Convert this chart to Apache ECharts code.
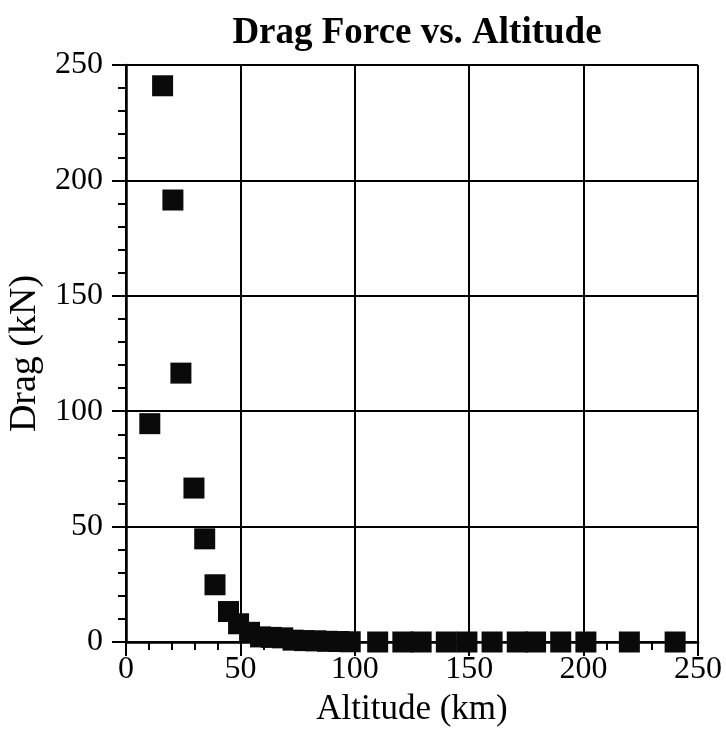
<!DOCTYPE html>
<html>
<head>
<meta charset="utf-8">
<script src="https://cdn.jsdelivr.net/npm/echarts@6/dist/echarts.min.js"></script>
<style>
  html, body { margin: 0; padding: 0; background: #fff; }
  #chart { width: 726px; height: 740px; }
</style>
</head>
<body>
<div id="chart"></div>
<script>
// Drag force measured at each altitude
const altitudeKm = [10.4, 16, 20.5, 24, 29.7, 34.4, 38.9, 44.8, 49.2, 54, 58.8, 63.5, 68.5, 73, 78, 83, 88, 93, 98,
                    110, 121, 129, 140, 149, 160, 171, 179, 190, 201, 220, 240];
const dragKn = [94.6, 241, 191.5, 116.5, 66.7, 44.7, 24.8, 13.2, 7.9, 4.2, 2.2, 2.0, 1.8, 0.8, 0.6, 0.5, 0.3, 0.2, 0.1,
                0, 0, 0, 0, 0, 0, 0, 0, 0, 0, 0, 0];

// Axis ranges and tick steps
const xTicks = { min: 0, max: 250, step: 50 };
const yTicks = { min: 0, max: 250, step: 50 };

const points = altitudeKm.map((a, i) => [a, dragKn[i]]);

const serif = '"Liberation Serif", "DejaVu Serif", serif';
const ink = '#000';

function valueAxis(t, extra) {
  return Object.assign({
    type: 'value',
    min: t.min,
    max: t.max,
    interval: t.step,
    axisLine: { show: true, onZero: false, lineStyle: { color: ink, width: 2.5 } },
    axisTick: { show: true, inside: false, length: 14, lineStyle: { color: ink, width: 2 } },
    minorTick: { show: true, splitNumber: 5, length: 8, lineStyle: { color: ink, width: 2 } },
    splitLine: { show: true, lineStyle: { color: ink, width: 2 } },
    axisLabel: { color: ink, fontFamily: serif, fontSize: 32 },
    nameLocation: 'middle',
    nameTextStyle: { color: ink, fontFamily: serif, fontSize: 35 }
  }, extra);
}

const chart = echarts.init(document.getElementById('chart'), null, { renderer: 'canvas' });
chart.setOption({
  animation: false,
  backgroundColor: '#fff',
  title: {
    text: 'Drag Force vs. Altitude',
    left: 412,
    textAlign: 'center',
    top: 10,
    textStyle: { color: ink, fontFamily: serif, fontSize: 37, fontWeight: 'bold' }
  },
  grid: { left: 126, right: 28, top: 65, bottom: 98, containLabel: false, outerBoundsMode: 'none' },
  xAxis: valueAxis(xTicks, {
    name: 'Altitude (km)',
    nameGap: 50,
    axisLabel: { color: ink, fontFamily: serif, fontSize: 32, margin: 12 }
  }),
  yAxis: valueAxis(yTicks, {
    name: 'Drag (kN)',
    nameGap: 72,
    nameTextStyle: { color: ink, fontFamily: serif, fontSize: 38 },
    axisLabel: { color: ink, fontFamily: serif, fontSize: 32, margin: 23 }
  }),
  series: [{
    type: 'scatter',
    data: points,
    symbol: 'rect',
    symbolSize: 21,
    itemStyle: { color: '#0a0a0a', opacity: 1 },
    z: 5
  }]
});
</script>
</body>
</html>
